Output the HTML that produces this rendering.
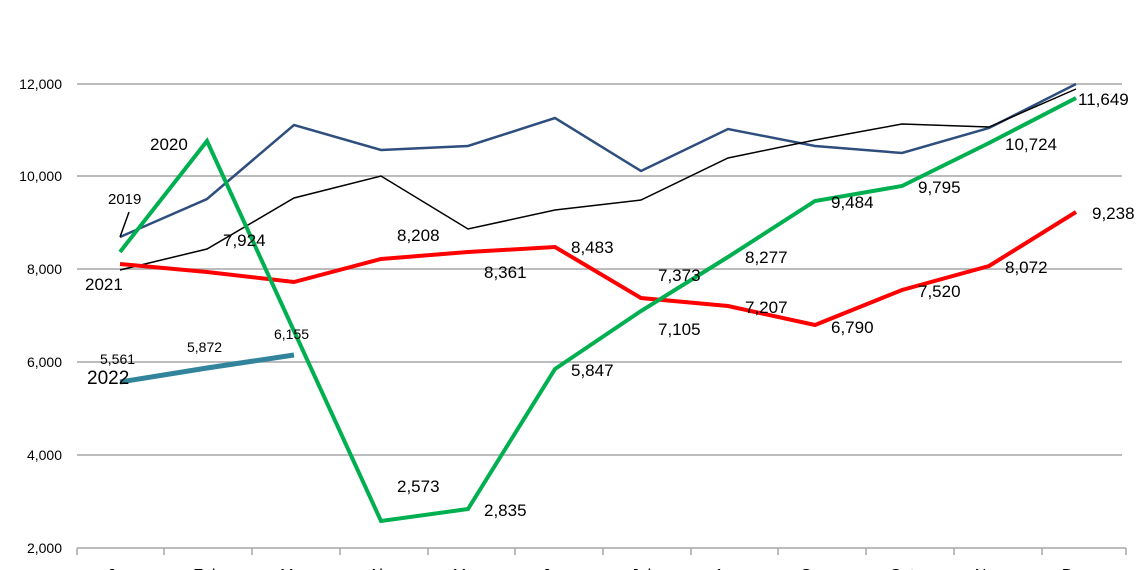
<!DOCTYPE html>
<html><head><meta charset="utf-8"><style>
html,body{margin:0;padding:0;background:#fff;overflow:hidden}
svg{display:block;font-family:"Liberation Sans",sans-serif}
</style></head><body>
<svg width="1140" height="570" viewBox="0 0 1140 570">
<g stroke="#a6a6a6" stroke-width="1.5">
<line x1="77" y1="84" x2="1122" y2="84"/>
<line x1="77" y1="176" x2="1122" y2="176"/>
<line x1="77" y1="269" x2="1122" y2="269"/>
<line x1="77" y1="362" x2="1122" y2="362"/>
<line x1="77" y1="455" x2="1122" y2="455"/>
<line x1="77" y1="548" x2="1126" y2="548"/>
<line x1="77" y1="548" x2="77" y2="555"/><line x1="164" y1="548" x2="164" y2="555"/>
<line x1="252" y1="548" x2="252" y2="555"/><line x1="340" y1="548" x2="340" y2="555"/>
<line x1="428" y1="548" x2="428" y2="555"/><line x1="515" y1="548" x2="515" y2="555"/>
<line x1="603" y1="548" x2="603" y2="555"/><line x1="691" y1="548" x2="691" y2="555"/>
<line x1="778" y1="548" x2="778" y2="555"/><line x1="866" y1="548" x2="866" y2="555"/>
<line x1="954" y1="548" x2="954" y2="555"/><line x1="1042" y1="548" x2="1042" y2="555"/>
<line x1="1126" y1="548" x2="1126" y2="555"/>
</g>
<g font-size="14" fill="#000" text-anchor="end">
<text x="62" y="89">12,000</text><text x="62" y="181">10,000</text>
<text x="62" y="274">8,000</text><text x="62" y="367">6,000</text>
<text x="62" y="460">4,000</text><text x="62" y="553">2,000</text>
</g>
<g font-size="16" fill="#000" text-anchor="middle">
<text x="120" y="580">Jan</text><text x="207" y="580">Feb</text><text x="294" y="580">Mar</text>
<text x="381" y="580">Abr</text><text x="468" y="580">May</text><text x="555" y="580">Jun</text>
<text x="641" y="580">Jul</text><text x="728" y="580">Ago</text><text x="815" y="580">Sep</text>
<text x="902" y="580">Oct</text><text x="989" y="580">Nov</text><text x="1076" y="580">Dec</text>
</g>
<polyline fill="none" stroke="#2e4e7e" stroke-width="2.5" points="120,237 207,199 294,125 381,150 468,146 555,118 641,171 728,129 815,146 902,153 989,128 1076,84"/>
<polyline fill="none" stroke="#000" stroke-width="1.5" points="120,270 207,249 294,198 381,176 468,229 555,210 641,200 728,158 815,140 902,124 989,127 1076,89"/>
<polyline fill="none" stroke="#ff0000" stroke-width="4" points="120,264 207,272 294,282 381,259 468,252 555,247 641,298 728,306 815,325 902,290 989,266 1076,212"/>
<polyline fill="none" stroke="#00b050" stroke-width="4" points="120,252 207,141 294,331 381,521 468,509 555,369 641,311 728,257 815,201 902,186 989,143 1076,98"/>
<polyline fill="none" stroke="#31849b" stroke-width="5" points="120,382 207,368 294,355"/>
<line x1="120" y1="237" x2="129" y2="212" stroke="#000" stroke-width="1.5"/>
<g font-size="17" fill="#000">
<text x="150" y="150">2020</text>
<text x="108" y="204" font-size="15">2019</text>
<text x="85" y="290">2021</text>
<text x="87" y="384" font-size="19">2022</text>
<text x="100" y="364" font-size="14">5,561</text>
<text x="187" y="352" font-size="14">5,872</text>
<text x="274" y="339" font-size="14">6,155</text>
<text x="223" y="246">7,924</text>
<text x="397" y="241">8,208</text>
<text x="484" y="278">8,361</text>
<text x="571" y="253">8,483</text>
<text x="658" y="281">7,373</text>
<text x="658" y="335">7,105</text>
<text x="745" y="313">7,207</text>
<text x="831" y="333">6,790</text>
<text x="918" y="297">7,520</text>
<text x="1005" y="273">8,072</text>
<text x="1092" y="219">9,238</text>
<text x="397" y="492">2,573</text>
<text x="484" y="516">2,835</text>
<text x="571" y="376">5,847</text>
<text x="745" y="263">8,277</text>
<text x="831" y="208">9,484</text>
<text x="918" y="193">9,795</text>
<text x="1005" y="150">10,724</text>
<text x="1078" y="105">11,649</text>
</g>
</svg>
</body></html>
